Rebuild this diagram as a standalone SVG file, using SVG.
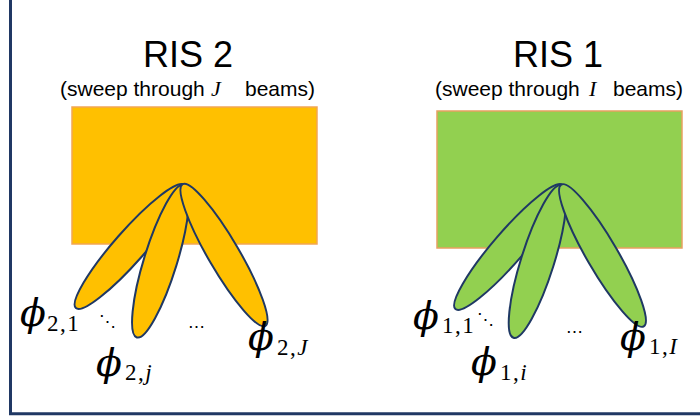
<svg xmlns="http://www.w3.org/2000/svg" width="700" height="419" viewBox="0 0 700 419">
<style>
.title{font-family:"Liberation Sans",Arial,sans-serif;font-size:36px;fill:#000;text-anchor:middle}
.sub{font-family:"Liberation Sans",Arial,sans-serif;font-size:21px;fill:#000}
.mvar{font-family:"Liberation Serif","DejaVu Serif",serif;font-style:italic;fill:#000}
.phi{font-family:"DejaVu Serif",serif;font-style:italic;font-size:38px;fill:#000}
.idx{font-family:"Liberation Serif","DejaVu Serif",serif;font-size:23px;letter-spacing:1.5px;fill:#000}
.dots{font-family:"DejaVu Serif",serif;font-size:17px;fill:#000}
.beam2{fill:#FFC000;stroke:#1F3864;stroke-width:2}
.beam1{fill:#92D050;stroke:#1F3864;stroke-width:2}
</style>
<rect width="700" height="419" fill="#fff"/>
<!-- frame -->
<path d="M10.5,0 V413.8 H700" fill="none" stroke="#203864" stroke-width="3"/>

<g id="ris2">
  <text class="title" x="188" y="67">RIS 2</text>
  <text class="sub" x="60" y="96">(sweep through</text>
  <text class="mvar" x="211" y="96" font-size="22">J</text>
  <text class="sub" x="245" y="96">beams)</text>
  <rect x="72" y="107" width="245" height="137" fill="#FFC000" stroke="#F2A654" stroke-width="1.5"/>
</g>
<g id="ris1">
  <text class="title" x="558" y="67">RIS 1</text>
  <text class="sub" x="435" y="96">(sweep through</text>
  <text class="mvar" x="589" y="96" font-size="22">I</text>
  <text class="sub" x="613" y="96">beams)</text>
  <rect x="437" y="111" width="245" height="137" fill="#92D050" stroke="#E8A060" stroke-width="1.5"/>
</g>

<g id="beams">
  <g id="ris2-beams">
    <ellipse class="beam2" cx="130" cy="246.5" rx="82" ry="15.5" transform="rotate(-48.7 130 246.5)"/>
    <ellipse class="beam2" cx="160.5" cy="261" rx="80" ry="16.5" transform="rotate(-72.8 160.5 261)"/>
    <ellipse class="beam2" cx="224" cy="255" rx="82" ry="15.5" transform="rotate(59.7 224 255)"/>
  </g>
  <g id="ris1-beams">
    <ellipse class="beam1" cx="509" cy="247" rx="82" ry="15.5" transform="rotate(-49.2 509 247)"/>
    <ellipse class="beam1" cx="537.5" cy="261.5" rx="80" ry="16.5" transform="rotate(-72.5 537.5 261.5)"/>
    <ellipse class="beam1" cx="602.5" cy="255.5" rx="82" ry="15.5" transform="rotate(59.8 602.5 255.5)"/>
  </g>
</g>

<g id="labels-ris2">
  <text class="phi" x="20" y="326">ϕ</text><text class="idx" x="47" y="331">2,1</text>
  <text class="dots" x="99" y="327">⋱</text>
  <text class="phi" x="96" y="376">ϕ</text><text class="idx" x="125" y="380">2,<tspan class="mvar">j</tspan></text>
  <text class="dots" x="188" y="332">⋯</text>
  <text class="phi" x="248" y="350">ϕ</text><text class="idx" x="277" y="355">2,<tspan class="mvar">J</tspan></text>
</g>
<g id="labels-ris1">
  <text class="phi" x="413" y="329">ϕ</text><text class="idx" x="442" y="333">1,1</text>
  <text class="dots" x="477" y="325">⋱</text>
  <text class="phi" x="471" y="375">ϕ</text><text class="idx" x="500" y="380">1,<tspan class="mvar">i</tspan></text>
  <text class="dots" x="566" y="337">⋯</text>
  <text class="phi" x="620" y="350">ϕ</text><text class="idx" x="649" y="354">1,<tspan class="mvar">I</tspan></text>
</g>
</svg>
